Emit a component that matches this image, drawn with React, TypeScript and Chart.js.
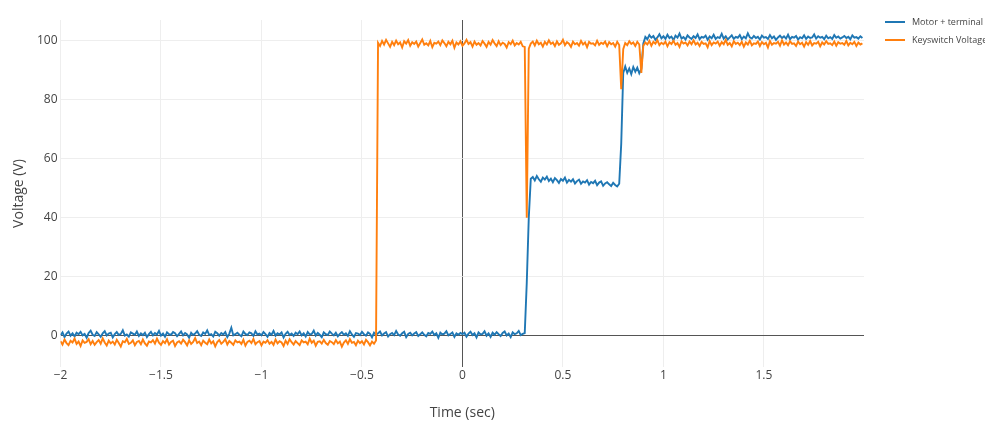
import React, { useEffect, useRef } from "react";
import { Chart, registerables } from "chart.js";

Chart.register(...registerables);

// Sampling grid of the recording (seconds)
const T_START = -2;
const T_STEP = 0.01;

const X_TICKS = [-2, -1.5, -1, -0.5, 0, 0.5, 1, 1.5];
const Y_TICKS = [0, 20, 40, 60, 80, 100];

const SERIES_NAMES = ["Motor + terminal", "Keyswitch Voltage"];

// Motor + terminal voltage (V), one value per sample from -2.00 s to 1.99 s
const MOTOR_V = [
  // -2.00 .. -1.01
  0.3, 1.2, -0.4, 0.8, 1.5, 0.1, 0.9, -0.2, 1.1, 0.6,
  1.4, 0.2, 0.7, -0.6, 1.0, 1.8, 0.4, 0.0, 1.3, 0.5,
  -0.3, 0.9, 1.6, 0.2, 0.8, 1.1, -0.5, 0.6, 1.3, 0.3,
  0.7, 1.9, 0.1, 0.5, -0.2, 1.2, 0.8, 0.4, 1.5, 0.0,
  0.9, 0.3, 1.1, -0.4, 0.6, 1.4, 0.2, 1.0, 0.5, 1.7,
  0.1, 0.8, -0.3, 1.2, 0.6, 0.4, 1.3, 0.9, -0.1, 0.7,
  1.5, 0.2, 1.0, 0.5, -0.6, 1.1, 0.3, 0.8, 1.6, 0.4,
  0.0, 1.2, 0.7, 1.9, 0.3, 0.6, -0.2, 1.4, 0.9, 0.1,
  1.0, 0.5, 1.3, -0.4, 0.8, 2.8, 0.2, 0.6, 1.1, 0.4,
  -0.1, 1.5, 0.7, 0.3, 1.2, 0.9, 0.0, 1.6, 0.5, 0.8,
  // -1.00 .. -0.01
  0.2, 1.3, 0.6, -0.3, 1.0, 0.4, 1.7, 0.1, 0.9, 0.5,
  1.2, -0.5, 0.7, 1.4, 0.3, 0.8, 0.0, 1.1, 0.6, 1.5,
  0.2, 0.9, -0.2, 1.3, 0.5, 0.7, 1.8, 0.1, 1.0, 0.4,
  -0.4, 1.2, 0.6, 0.3, 1.5, 0.8, 0.2, 1.1, -0.1, 0.7,
  1.3, 0.4, 0.9, 0.0, 1.6, 0.5, -0.3, 1.0, 0.8, 0.3,
  1.4, 0.6, 0.1, 1.2, 0.7, -0.5, 1.1, 0.4, 0.9, 1.5,
  0.2, 0.8, 1.3, -0.2, 0.6, 1.0, 0.3, 1.7, 0.5, 0.1,
  0.9, 1.4, -0.4, 0.7, 1.1, 0.2, 0.8, 1.3, 0.0, 0.6,
  1.2, 0.4, -0.1, 1.0, 0.7, 1.5, 0.3, 0.9, -0.6, 1.1,
  0.5, 0.8, 1.6, 0.2, 0.7, 1.2, -0.3, 0.9, 0.4, 1.0,
  // 0.00 .. 0.31
  0.6, 1.1, -0.2, 0.8, 1.4, 0.3, 0.9, -0.5, 1.2, 0.5,
  0.7, 1.6, 0.1, 0.9, -0.3, 1.1, 0.4, 1.3, 0.6, 0.0,
  1.0, 1.5, 0.2, 0.8, -0.4, 1.2, 0.6, 0.9, 1.7, 0.3,
  0.7, 1.0,
  // 0.32 .. 0.34 (step up)
  18, 40, 53.2,
  // 0.35 .. 0.78
  53.8, 52.6, 54.1, 53.0, 52.2, 53.6, 52.9, 53.9, 52.4, 53.2,
  52.0, 53.4, 52.7, 51.8, 53.1, 52.5, 53.6, 51.9, 52.8, 52.2,
  53.0, 51.6, 52.4, 52.9, 51.5, 52.3, 51.9, 52.7, 51.2, 52.1,
  51.7, 52.5, 51.0, 51.9, 52.3, 50.8, 51.6, 52.0, 51.3, 50.7,
  51.8, 51.1, 50.6, 51.5,
  // 0.79 .. 0.80
  65, 89,
  // 0.81 .. 0.89
  91.2, 89.0, 90.5, 88.6, 91.0, 89.4, 90.8, 88.9, 90.3,
  // 0.90
  99,
  // 0.91 .. 1.99
  101.2, 100.4, 101.8, 100.9, 101.5, 100.2, 101.0, 102.1, 100.7, 101.4,
  100.5, 101.9, 100.8, 101.3, 100.1, 101.6, 100.9, 102.3, 100.6, 101.1,
  100.3, 101.7, 101.0, 100.5, 101.4, 100.8, 102.0, 100.4, 101.2, 100.9,
  101.6, 100.2, 101.3, 100.7, 101.9, 100.5, 101.1, 100.8, 102.2, 100.6,
  101.4, 100.3, 101.0, 101.7, 100.5, 101.2, 100.9, 101.8, 100.4, 101.3,
  100.7, 102.4, 101.0, 100.6, 101.5, 100.8, 101.2, 100.3, 101.6, 100.9,
  101.1, 100.5, 101.8, 100.7, 101.3, 100.2, 101.0, 101.6, 100.8, 101.4,
  100.6, 101.9, 100.4, 101.2, 100.9, 101.5, 100.3, 101.1, 100.7, 101.7,
  100.5, 101.3, 100.8, 101.0, 102.0, 100.6, 101.4, 100.9, 101.2, 100.4,
  101.6, 100.7, 101.1, 100.5, 101.8, 100.9, 101.3, 100.6, 101.0, 101.5,
  100.8, 101.2, 100.4, 101.7, 100.9, 101.1, 100.6, 101.4, 100.8,
];

// Keyswitch voltage (V), one value per sample from -2.00 s to 1.99 s
const KEYSWITCH_V = [
  // -2.00 .. -1.01
  -1.8, -2.9, -1.2, -2.4, -3.1, -1.6, -2.2, -0.9, -2.7, -1.9,
  -3.4, -1.5, -2.3, -2.0, -1.1, -2.8, -1.7, -3.0, -2.1, -1.4,
  -2.6, -0.8, -2.2, -3.2, -1.6, -2.5, -1.9, -2.9, -1.3, -2.4,
  -3.6, -1.8, -2.1, -1.0, -2.7, -2.3, -1.5, -3.1, -2.0, -1.7,
  -2.8, -1.2, -2.5, -3.3, -1.9, -2.2, -1.4, -2.6, -0.9, -2.3,
  -3.0, -1.7, -2.4, -1.1, -2.9, -2.0, -1.6, -3.4, -2.2, -1.8,
  -2.6, -1.3, -2.1, -3.2, -1.5, -2.7, -2.0, -0.7, -2.4, -1.9,
  -3.1, -1.6, -2.3, -2.8, -1.2, -2.5, -1.8, -3.5, -2.1, -1.4,
  -2.6, -2.0, -1.1, -2.9, -1.7, -2.3, -3.0, -1.5, -2.2, -1.9,
  -2.7, -1.3, -3.3, -2.0, -1.6, -2.4, -1.0, -2.8, -2.1, -1.7,
  // -1.00 .. -0.43
  -3.2, -1.9, -2.3, -1.4, -2.6, -2.0, -3.0, -1.2, -2.5, -1.8,
  -2.2, -3.4, -1.6, -2.7, -1.1, -2.1, -2.9, -1.7, -2.4, -3.1,
  -1.5, -2.2, -1.9, -2.8, -0.9, -2.3, -1.6, -3.3, -2.0, -1.8,
  -2.6, -1.3, -2.4, -3.0, -1.7, -2.1, -2.8, -1.4, -2.5, -1.9,
  -3.6, -2.2, -1.5, -2.7, -1.1, -2.3, -2.0, -3.1, -1.6, -2.4,
  -1.8, -2.9, -1.3, -2.1, -3.2, -1.9, -2.6, -1.5,
  // -0.42 .. 0.30
  99.2, 98.1, 99.8, 98.6, 100.2, 99.0, 97.8, 99.5, 98.4, 99.9,
  98.7, 99.3, 97.6, 99.7, 98.9, 100.1, 98.2, 99.4, 98.8, 99.6,
  97.9, 99.1, 100.3, 98.5, 99.0, 98.3, 99.8, 97.7, 99.2, 98.9,
  99.6, 98.4, 100.0, 99.1, 98.0, 99.5, 98.7, 99.9, 97.5, 99.3,
  98.6, 99.7, 98.2, 99.0, 100.2, 98.8, 99.4, 97.9, 99.6, 98.5,
  99.1, 98.3, 99.8, 98.9, 97.8, 99.5, 98.6, 100.1, 99.0, 98.1,
  99.7, 98.4, 99.2, 98.8, 97.6, 99.4, 98.7, 99.9, 98.3, 99.1,
  98.6, 99.5, 98.0,
  // 0.31 .. 0.33 (dip)
  97.8, 40, 97.2,
  // 0.34 .. 0.78
  98.9, 99.6, 98.3, 99.9, 98.7, 99.2, 97.9, 99.5, 98.6, 100.0,
  98.8, 99.3, 98.1, 99.7, 98.5, 99.0, 100.2, 98.4, 99.4, 98.9,
  97.8, 99.6, 98.7, 99.1, 98.2, 99.8, 98.6, 99.3, 97.7, 99.5,
  98.9, 99.0, 98.3, 99.9, 98.5, 99.2, 98.8, 99.6, 98.0, 99.4,
  98.7, 99.1, 97.9, 99.5, 98.4,
  // 0.79 .. 0.80
  83.5, 97.0,
  // 0.81 .. 0.88
  99.1, 98.4, 99.7, 98.8, 99.3, 98.1, 99.5, 98.6,
  // 0.89 .. 0.90
  89, 98.2,
  // 0.91 .. 1.99
  99.3, 98.6, 99.8, 98.2, 99.5, 98.9, 100.1, 98.4, 99.2, 98.7,
  99.6, 98.0, 99.4, 98.8, 99.9, 98.5, 99.1, 97.8, 99.7, 98.9,
  99.3, 98.3, 99.6, 98.7, 100.0, 98.6, 99.2, 98.1, 99.5, 98.8,
  99.0, 97.7, 99.8, 98.4, 99.3, 98.9, 99.6, 98.2, 99.4, 98.7,
  100.2, 98.5, 99.1, 98.0, 99.7, 98.8, 99.2, 98.4, 99.5, 97.9,
  99.3, 98.6, 99.9, 98.3, 99.0, 98.8, 99.6, 98.1, 99.4, 98.7,
  99.2, 97.6, 99.8, 98.5, 99.1, 98.9, 99.5, 98.2, 100.0, 98.6,
  99.3, 98.4, 99.7, 98.8, 99.0, 98.1, 99.6, 98.7, 99.2, 97.9,
  99.4, 98.5, 99.8, 98.3, 99.1, 98.9, 99.5, 98.0, 99.3, 98.6,
  99.7, 98.8, 99.0, 98.4, 99.6, 98.2, 99.4, 98.9, 99.1, 98.5,
  99.8, 98.3, 99.2, 98.7, 99.5, 98.1, 99.3, 98.6, 99.0,
];

const BLUE = "#1f77b4";
const ORANGE = "#ff7f0e";
const FONT = "'Open Sans', 'Noto Sans', sans-serif";
const TEXT = "#444";

const toPoints = (vals: number[]) =>
  vals.map((v, i) => ({ x: Math.round((T_START + i * T_STEP) * 100) / 100, y: v }));

const fmt = (v: number) => (v < 0 ? "\u2212" + String(Math.abs(v)) : String(v));

export default function App() {
  const ref = useRef<HTMLCanvasElement | null>(null);

  useEffect(() => {
    if (!ref.current) return;
    const chart = new Chart(ref.current, {
      type: "line",
      data: {
        datasets: [
          {
            label: SERIES_NAMES[1],
            data: toPoints(KEYSWITCH_V),
            borderColor: ORANGE,
            backgroundColor: ORANGE,
            borderWidth: 1.9,
            pointRadius: 0,
            tension: 0,
          },
          {
            label: SERIES_NAMES[0],
            data: toPoints(MOTOR_V),
            borderColor: BLUE,
            backgroundColor: BLUE,
            borderWidth: 1.9,
            pointRadius: 0,
            tension: 0,
          },
        ],
      },
      options: {
        animation: false,
        responsive: false,
        maintainAspectRatio: false,
        layout: { padding: { left: 0, right: 121, top: 20, bottom: 0 } },
        plugins: { legend: { display: false }, tooltip: { enabled: false } },
        scales: {
          x: {
            type: "linear",
            min: -2,
            max: 1.998,
            afterBuildTicks: (s: any) => {
              s.ticks = X_TICKS.map((v) => ({ value: v }));
            },
            afterFit: (s: any) => {
              s.height = 56;
            },
            border: { display: false },
            grid: {
              drawTicks: false,
              color: (ctx: any) => (ctx.tick && ctx.tick.value === 0 ? "#555" : "#eee"),
              lineWidth: 1,
            },
            ticks: {
              padding: 1,
              color: TEXT,
              font: { family: FONT, size: 12 },
              maxRotation: 0,
              autoSkip: false,
              callback: (v: any) => fmt(Number(v)),
            },
            title: {
              display: true,
              text: "Time (sec)",
              color: TEXT,
              font: { family: FONT, size: 14 },
              padding: { top: 0, bottom: 1.6 },
            },
          },
          y: {
            type: "linear",
            min: -10.5,
            max: 106.9,
            afterBuildTicks: (s: any) => {
              s.ticks = Y_TICKS.map((v) => ({ value: v }));
            },
            afterFit: (s: any) => {
              s.width = 60.5;
            },
            border: { display: false },
            grid: {
              drawTicks: false,
              color: (ctx: any) => (ctx.tick && ctx.tick.value === 0 ? "#555" : "#eee"),
              lineWidth: 1,
            },
            ticks: {
              padding: 3,
              color: TEXT,
              font: { family: FONT, size: 12 },
              autoSkip: false,
              callback: (v: any) => fmt(Number(v)),
            },
            title: {
              display: true,
              text: "Voltage (V)",
              color: TEXT,
              font: { family: FONT, size: 14 },
              padding: { top: 10.6, bottom: 0 },
            },
          },
        },
      },
    });
    return () => chart.destroy();
  }, []);

  const legendRow = (name: string, color: string, y: number) => (
    <div
      key={name}
      style={{
        position: "absolute",
        left: 885,
        top: y - 8,
        height: 16,
        display: "flex",
        alignItems: "center",
        whiteSpace: "nowrap",
      }}
    >
      <div style={{ width: 20, height: 2, background: color }} />
      <span
        style={{
          marginLeft: 7,
          fontFamily: FONT,
          fontSize: 9,
          color: TEXT,
          lineHeight: "16px",
        }}
      >
        {name}
      </span>
    </div>
  );

  return (
    <div
      style={{
        position: "absolute",
        left: 0,
        top: 0,
        width: 985,
        height: 423,
        overflow: "hidden",
        background: "#fff",
      }}
    >
      <canvas ref={ref} width={985} height={423} style={{ display: "block", width: 985, height: 423 }} />
      {legendRow(SERIES_NAMES[0], BLUE, 22)}
      {legendRow(SERIES_NAMES[1], ORANGE, 40)}
    </div>
  );
}
